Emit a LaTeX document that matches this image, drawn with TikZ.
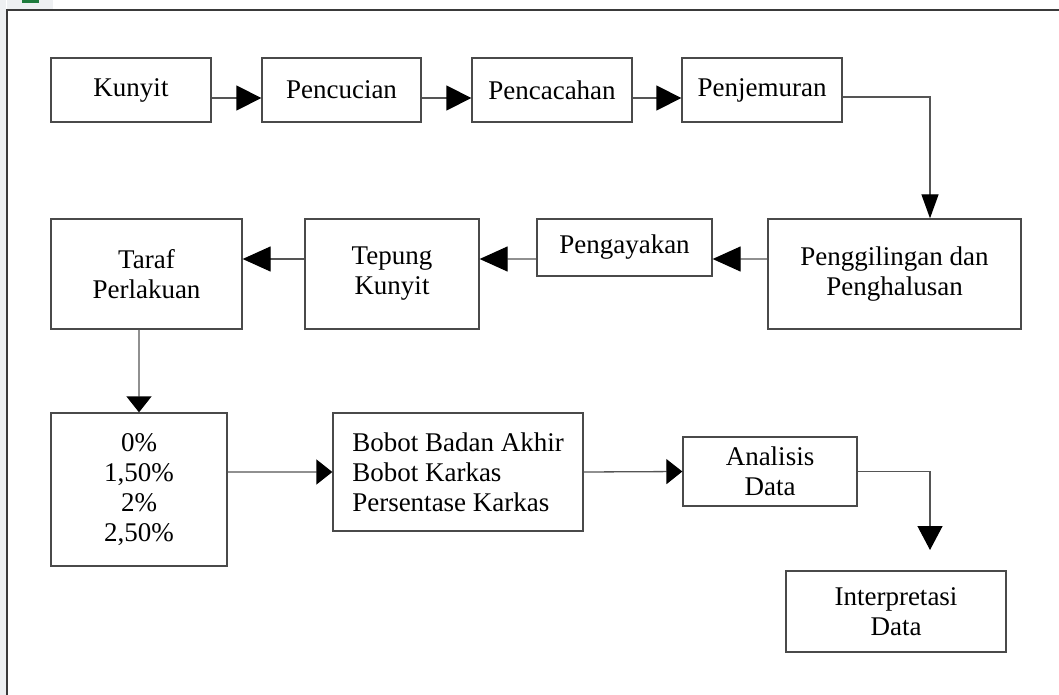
\documentclass[tikz,border=0pt]{standalone}
\usepackage{fontspec}
\setmainfont{Liberation Serif}
\usetikzlibrary{arrows.meta,calc}
\definecolor{boxc}{HTML}{4A4A4A}
\definecolor{linec}{HTML}{555555}
\definecolor{framec}{HTML}{3A3A3A}
\definecolor{sidegray}{HTML}{EEF0F2}
\definecolor{icongreen}{HTML}{1E7B3C}
\begin{document}
\begin{tikzpicture}[x=1bp,y=-1bp,
  box/.style={draw=boxc, line width=1.3bp, inner sep=0pt, align=center,
              font=\fontsize{27bp}{30bp}\selectfont},
  conn/.style={draw=linec, line width=1.3bp},
  tipA/.style={-{Triangle[length=25bp,width=25bp,color=black]}},
  tipB/.style={-{Triangle[length=24bp,width=17bp,color=black]}},
  tipC/.style={-{Triangle[length=28bp,width=25bp,color=black]}},
  tipD/.style={-{Triangle[length=16bp,width=25bp,color=black]}},
  tipE/.style={-{Triangle[length=24bp,width=25bp,color=black]}}]
\useasboundingbox (0,0) rectangle (1059,695);
\fill[white] (0,0) rectangle (1059,695);
% surrounding frame
\fill[sidegray] (0,0) rectangle (6,695);
\fill[sidegray] (7,0) rectangle (53,9);
\fill[icongreen] (22,0) rectangle (39,3);
\draw[framec, line width=1.5bp] (7,695) -- (7,10) -- (1059,10);

% row 1
\node[box, minimum width=160bp, minimum height=64bp] (kunyit) at (131,90) {Kunyit};
\node[box, minimum width=159bp, minimum height=64bp] (cuci) at (341.5,90) {Pencucian};
\node[box, minimum width=160bp, minimum height=64bp] (cacah) at (552,90) {Pencacahan};
\node[box, minimum width=160bp, minimum height=64bp] (jemur) at (762,90) {\raisebox{3bp}{Penjemuran}};

% row 2
\node[box, minimum width=253bp, minimum height=110bp] (giling) at (894.5,274) {Penggilingan dan\\Penghalusan};
\node[box, minimum width=175bp, minimum height=57bp] (ayak) at (624.5,247.5) {Pengayakan};
\node[box, minimum width=174bp, minimum height=110bp] (tepung) at (392,274) {Tepung\\Kunyit};
\node[box, minimum width=191bp, minimum height=110bp] (taraf) at (146.5,274) {Taraf\\Perlakuan};

% row 3
\node[box, minimum width=176bp, minimum height=153bp] (persen) at (139,489.5) {0\%\\1,50\%\\2\%\\2,50\%};
\node[box, align=left, minimum width=250bp, minimum height=118bp] (bobot) at (458,472) {Bobot Badan Akhir\\Bobot Karkas\\Persentase Karkas};
\node[box, minimum width=174bp, minimum height=69bp] (ana) at (770,471.5) {Analisis\\Data};
\node[box, minimum width=220bp, minimum height=81bp] (interp) at (896,611.5) {Interpretasi\\Data};
\coordinate (itip) at (930,550);

% connectors
\draw[conn, tipA] ([yshift=-8bp]kunyit.east) -- ([yshift=-8bp]cuci.west);
\draw[conn, tipA] ([yshift=-8bp]cuci.east) -- ([yshift=-8bp]cacah.west);
\draw[conn, tipA] ([yshift=-8bp]cacah.east) -- ([yshift=-8bp]jemur.west);
\draw[conn, tipB] ([yshift=-7bp]jemur.east) -| ([xshift=35.5bp]giling.north);
\draw[conn, tipC] ([yshift=15bp]giling.west) -- ([yshift=-11.5bp]ayak.east);
\draw[conn, tipC] ([yshift=-11.5bp]ayak.west) -- ([yshift=15bp]tepung.east);
\draw[conn, tipC] ([yshift=15bp]tepung.west) -- ([yshift=15bp]taraf.east);
\draw[conn, tipD] ([xshift=-7.5bp]taraf.south) -- (persen.north);
\draw[conn, tipD] ([yshift=17.5bp]persen.east) -- (bobot.west);
\draw[conn, tipD] (bobot.east) -- (ana.west);
\draw[conn, tipE] (ana.east) -| (itip);
\end{tikzpicture}
\end{document}
